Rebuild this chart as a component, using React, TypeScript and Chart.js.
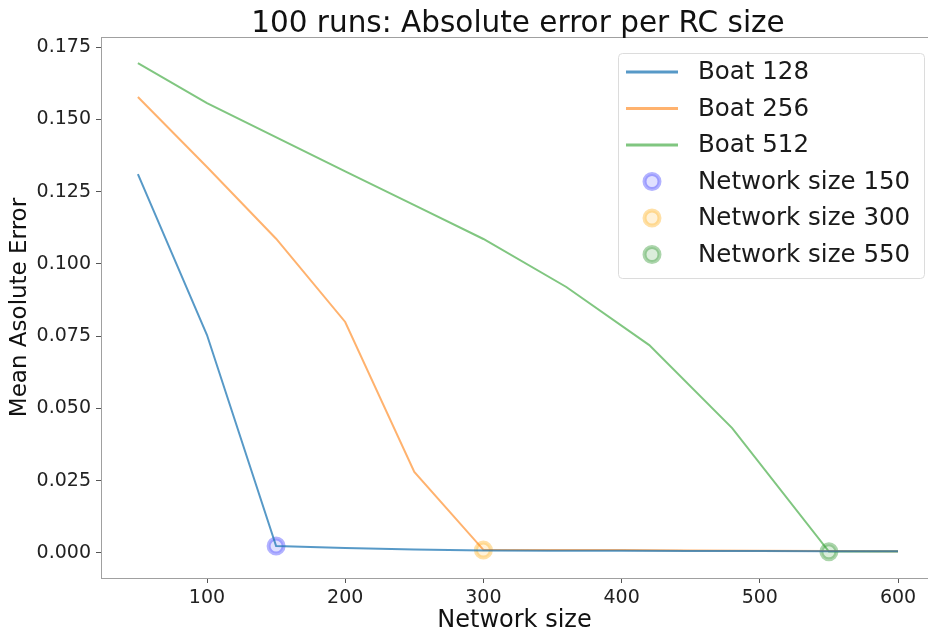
import { useEffect, useRef } from 'react';
import { Chart, registerables } from 'chart.js';

Chart.register(...registerables);

const chartTitle = '100 runs: Absolute error per RC size';
const xAxisTitle = 'Network size';
const yAxisTitle = 'Mean Asolute Error';
const xTickValues = [100, 200, 300, 400, 500, 600];
const yTickValues = [0, 0.025, 0.05, 0.075, 0.1, 0.125, 0.15, 0.175];

const sizes128 = [50, 100, 150, 200, 250, 300, 350, 400, 450, 500, 550, 600];
const boat128 = [0.131, 0.0754, 0.0024, 0.0017, 0.0012, 0.0009, 0.0008, 0.0008, 0.0007, 0.0007, 0.0006, 0.0006];

const sizes256 = [50, 100, 150, 200, 250, 300, 350, 400, 450, 500, 550, 600];
const boat256 = [0.1577, 0.1335, 0.1087, 0.0799, 0.028, 0.0011, 0.001, 0.001, 0.0009, 0.0008, 0.0007, 0.0006];

const sizes512 = [50, 100, 200, 250, 300, 360, 420, 480, 550, 600];
const boat512 = [0.1694, 0.1556, 0.132, 0.1203, 0.1086, 0.092, 0.0719, 0.0432, 0.0005, 0.0005];

const markerSizes = [150, 300, 550];
const markerErrors = [0.0024, 0.001, 0.0004];
const markerLabels = ['Network size 150', 'Network size 300', 'Network size 550'];
const seriesLabels = ['Boat 128', 'Boat 256', 'Boat 512'];

const lineColors = ['rgba(31,119,180,0.75)', 'rgba(255,127,14,0.6)', 'rgba(44,160,44,0.6)'];
const markerColors = ['rgba(0,0,255,0.3)', 'rgba(255,165,0,0.35)', 'rgba(0,128,0,0.33)'];
const markerFills = ['rgba(0,0,255,0.12)', 'rgba(255,165,0,0.15)', 'rgba(0,128,0,0.14)'];

const X_MIN = 23.3;
const X_MAX = 621.7;
const AXES_START = 22.5;
const AXES_END = 627.5;

const toPoints = (xs: number[], ys: number[]) => xs.map((x, i) => ({ x, y: ys[i] }));

const frameTitleLegend = {
  id: 'frameTitleLegend',
  afterDatasetsDraw(chart: any) {
    const { ctx, chartArea } = chart;
    const xs = chart.scales.x;
    ctx.save();
    // axes frame (right spine lies beyond the canvas edge)
    const rightEdge = xs.getPixelForValue(AXES_END);
    ctx.strokeStyle = '#a0a0a0';
    ctx.lineWidth = 1;
    ctx.strokeRect(chartArea.left + 0.5, chartArea.top + 0.5, rightEdge - chartArea.left, chartArea.bottom - chartArea.top);

    // title centred over the axes
    const cx = xs.getPixelForValue((AXES_START + AXES_END) / 2);
    ctx.fillStyle = '#111';
    ctx.font = '29.5px "DejaVu Sans"';
    ctx.textAlign = 'center';
    ctx.textBaseline = 'alphabetic';
    ctx.fillText(chartTitle, cx, chartArea.top - 5);

    // legend box
    const bx = Math.round(rightEdge) - 318;
    const by = chartArea.top + 16;
    const bw = 306;
    const bh = 225;
    ctx.fillStyle = 'rgba(255,255,255,0.85)';
    ctx.strokeStyle = '#dcdcdc';
    ctx.beginPath();
    ctx.roundRect(bx + 0.5, by + 0.5, bw, bh, 4);
    ctx.fill();
    ctx.stroke();

    ctx.font = '24.5px "DejaVu Sans"';
    ctx.textBaseline = 'middle';
    ctx.textAlign = 'left';
    chart.data.datasets.forEach((ds: any, i: number) => {
      const cy = by + 19 + i * 36.5;
      if (ds.showLine === false) {
        ctx.beginPath();
        ctx.arc(bx + 34, cy, ds.pointRadius, 0, Math.PI * 2);
        ctx.fillStyle = ds.backgroundColor;
        ctx.fill();
        ctx.lineWidth = ds.pointBorderWidth;
        ctx.strokeStyle = ds.borderColor;
        ctx.stroke();
      } else {
        ctx.beginPath();
        ctx.moveTo(bx + 8, cy);
        ctx.lineTo(bx + 60, cy);
        ctx.strokeStyle = ds.borderColor;
        ctx.lineWidth = 3;
        ctx.stroke();
      }
      ctx.fillStyle = '#1a1a1a';
      ctx.fillText(ds.label, bx + 80, cy + 1);
    });
    ctx.restore();
  },
};

export default function App() {
  const ref = useRef<HTMLCanvasElement | null>(null);

  useEffect(() => {
    if (!ref.current) return;
    const lineSets = [
      toPoints(sizes128, boat128),
      toPoints(sizes256, boat256),
      toPoints(sizes512, boat512),
    ].map((data, i) => ({
      type: 'line' as const,
      label: seriesLabels[i],
      data,
      borderColor: lineColors[i],
      backgroundColor: lineColors[i],
      borderWidth: 2,
      pointRadius: 0,
      tension: 0,
      fill: false,
    }));
    const markerSets = markerSizes.map((x, i) => ({
      type: 'scatter' as const,
      label: markerLabels[i],
      data: [{ x, y: markerErrors[i] }],
      showLine: false,
      pointRadius: 7.5,
      pointHoverRadius: 7.5,
      pointBorderWidth: 4,
      borderColor: markerColors[i],
      backgroundColor: markerFills[i],
    }));

    const chart = new Chart(ref.current, {
      type: 'line',
      data: { datasets: [...lineSets, ...markerSets] as any },
      plugins: [frameTitleLegend],
      options: {
        responsive: false,
        animation: false,
        layout: { autoPadding: false, padding: { top: 37, left: 0, right: 0, bottom: 0 } },
        plugins: {
          legend: { display: false },
          tooltip: { enabled: false },
          title: { display: false },
        },
        scales: {
          x: {
            type: 'linear',
            min: X_MIN,
            max: X_MAX,
            afterBuildTicks: (axis: any) => {
              axis.ticks = xTickValues.map((v) => ({ value: v }));
            },
            afterFit: (axis: any) => {
              axis.height = 57;
              axis.paddingRight = 0;
              axis.paddingLeft = 0;
            },
            grid: { drawOnChartArea: false, drawTicks: true, tickLength: 5, color: '#555' },
            border: { display: false },
            ticks: {
              padding: 4,
              color: '#222',
              font: { family: 'DejaVu Sans', size: 19 },
              maxRotation: 0,
              callback: (v: any) => String(v),
            },
            title: {
              display: true,
              text: xAxisTitle,
              color: '#111',
              font: { family: 'DejaVu Sans', size: 24 },
              padding: { top: 0, bottom: 0 },
            },
          },
          y: {
            type: 'linear',
            min: -0.00865,
            max: 0.17846,
            afterBuildTicks: (axis: any) => {
              axis.ticks = yTickValues.map((v) => ({ value: v }));
            },
            afterFit: (axis: any) => {
              axis.width = 101;
              axis.paddingTop = 0;
              axis.paddingBottom = 0;
            },
            grid: { drawOnChartArea: false, drawTicks: true, tickLength: 5, color: '#555' },
            border: { display: false },
            ticks: {
              padding: 5,
              color: '#222',
              font: { family: 'DejaVu Sans', size: 19 },
              callback: (v: any) => Number(v).toFixed(3),
            },
            title: {
              display: true,
              text: yAxisTitle,
              color: '#111',
              font: { family: 'DejaVu Sans', size: 23 },
              padding: { top: 6, bottom: 0 },
            },
          },
        },
      },
    });
    return () => chart.destroy();
  }, []);

  return (
    <div style={{ position: 'fixed', left: 0, top: 0, width: 928, height: 635, background: '#fff' }}>
      <canvas ref={ref} width={928} height={635} style={{ display: 'block' }} />
    </div>
  );
}
